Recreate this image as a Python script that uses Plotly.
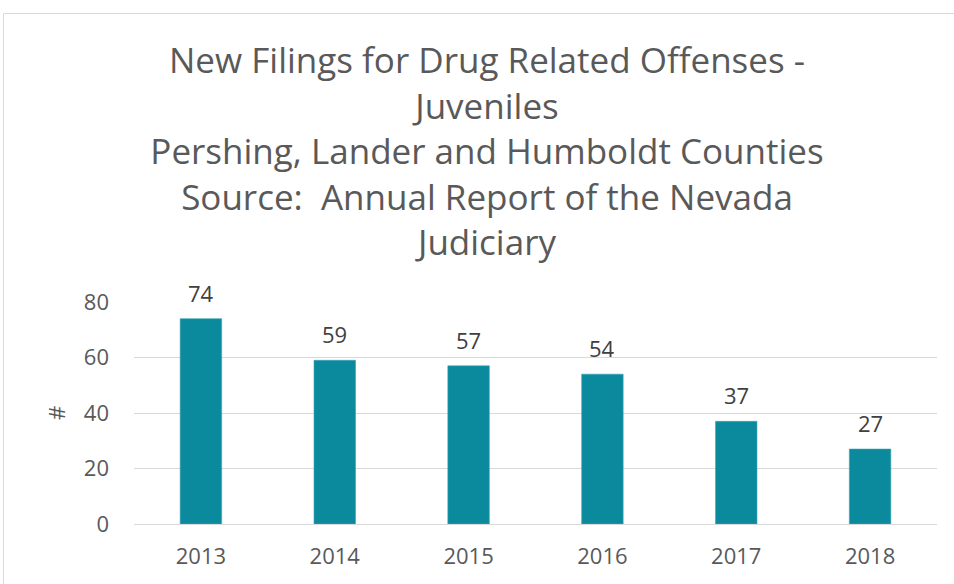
import plotly.graph_objects as go

years = ["2013", "2014", "2015", "2016", "2017", "2018"]
filings = [74, 59, 57, 54, 37, 27]
y_ticks = [0, 20, 40, 60, 80]

title_lines = [
    "New Filings for Drug Related Offenses -",
    "Juveniles",
    "Pershing, Lander and Humboldt Counties",
    "Source:  Annual Report of the Nevada",
    "Judiciary",
]

W, H = 954, 584
L, R, T, B = 134, 17, 302, 60
pw, ph = W - L - R, H - T - B

def px_x(x):
    return (x - L) / pw

def px_y(y):
    return (H - B - y) / ph

fig = go.Figure(go.Bar(
    x=years, y=filings,
    marker=dict(color="#0B8A9E", line=dict(color="#3AA5B5", width=0.6)),
    width=0.31,
    cliponaxis=False,
))

# value labels above bars (category index positions on the category axis)
for i, v in enumerate(filings):
    fig.add_annotation(x=i, y=v, text=str(v), showarrow=False,
                       xref="x", yref="y", yanchor="bottom", yshift=9,
                       font=dict(size=22, color="#404040", family="Open Sans"))

fig.update_layout(
    width=W, height=H,
    margin=dict(l=L, r=R, t=T, b=B),
    paper_bgcolor="white", plot_bgcolor="white",
    font=dict(family="Open Sans", color="#595959"),
    title=dict(
        text="<br>".join(title_lines),
        x=487 / W, xanchor="center", xref="container",
        y=1 - 73 / H, yanchor="top", yref="container",
        font=dict(size=35, color="#595959", family="Open Sans"),
    ),
    showlegend=False,
)
fig.update_xaxes(type="category", categoryorder="array", categoryarray=years,
                 range=[-0.5, len(years) - 0.5],
                 showgrid=False, showline=False, ticks="",
                 tickfont=dict(size=22, color="#595959"), ticklabelstandoff=17)
fig.update_yaxes(
    range=[0, 80], tickvals=y_ticks, showgrid=True, gridcolor="#D9D9D9", gridwidth=1,
    zeroline=True, zerolinecolor="#D9D9D9", zerolinewidth=1,
    tickfont=dict(size=22, color="#595959"), ticks="", ticklabelstandoff=24,
    title=dict(text="#", font=dict(size=22, color="#595959"), standoff=12),
)
fig.add_shape(type="rect", xref="paper", yref="paper",
              x0=px_x(3.5), x1=px_x(962), y0=px_y(13.5), y1=px_y(592),
              line=dict(color="#D9D9D9", width=1), fillcolor="rgba(0,0,0,0)", layer="below")

fig.write_html("out.html", config={"displayModeBar": False},
               post_script="document.body.style.margin='0';document.body.style.overflow='hidden';")
